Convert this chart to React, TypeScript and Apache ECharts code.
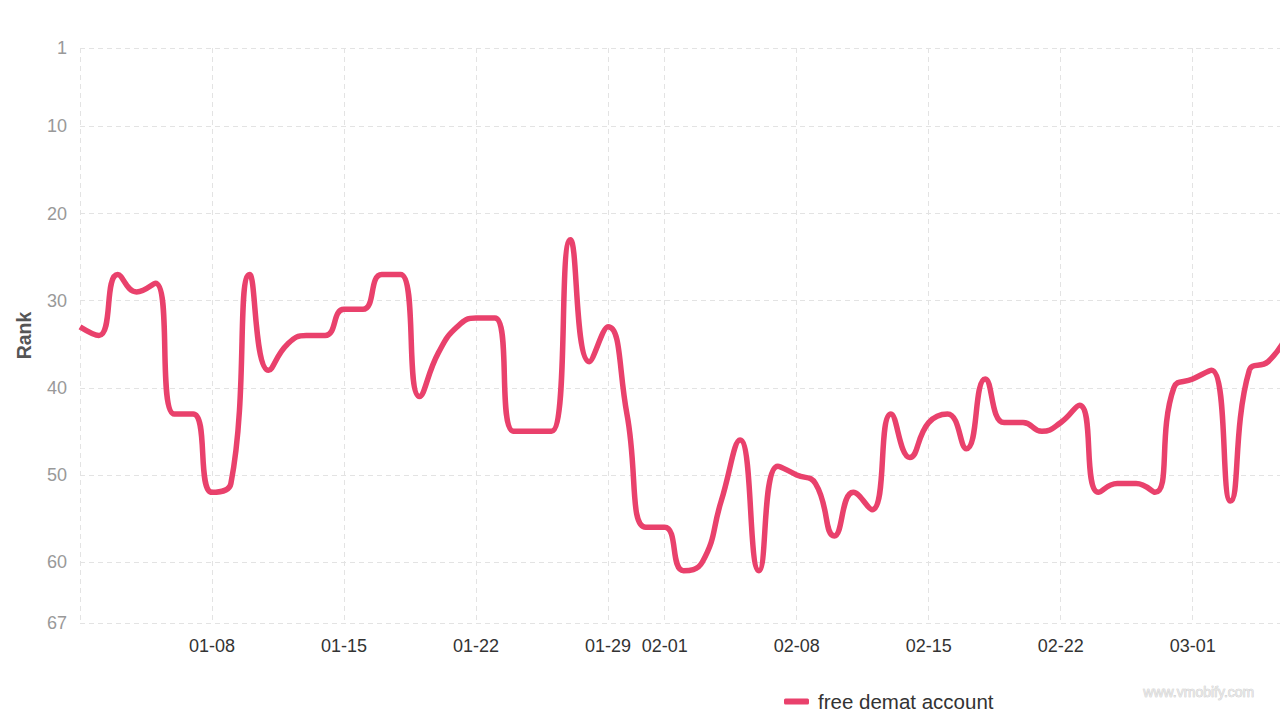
import React, { useEffect, useRef } from "react";
import * as echarts from "echarts";

const startDate = "2025-01-01";
const endDate = "2025-03-06";
const seriesName = "free demat account";
const ranks = [
  33, 34, 27, 29, 28, 43, 43, 52, 51, 27,
  38, 35, 34, 34, 31, 31, 27, 27, 41, 36,
  33, 32, 32, 45, 45, 45, 23, 37, 33, 43,
  56, 56, 61, 60, 53, 46, 61, 49, 50, 51,
  57, 52, 54, 43, 48, 44, 43, 47, 39, 44,
  44, 45, 44, 42, 52, 51, 51, 52, 40, 39,
  38, 53, 38, 37, 34,
];
const xTickDates = [
  "2025-01-01", "2025-01-08", "2025-01-15", "2025-01-22", "2025-01-29",
  "2025-02-01", "2025-02-08", "2025-02-15", "2025-02-22", "2025-03-01",
];
const xLabelDates = [
  "2025-01-08", "2025-01-15", "2025-01-22", "2025-01-29",
  "2025-02-01", "2025-02-08", "2025-02-15", "2025-02-22", "2025-03-01",
];
const yTicks = [1, 10, 20, 30, 40, 50, 60, 67];

const toTs = (s: string) => {
  const [y, m, d] = s.split("-").map(Number);
  return new Date(y, m - 1, d).getTime();
};
const pad = (n: number) => (n < 10 ? "0" + n : "" + n);

export default function App() {
  const ref = useRef<HTMLDivElement>(null);
  useEffect(() => {
    if (!ref.current) return;
    const chart = echarts.init(ref.current, undefined, { renderer: "svg" });
    const t0 = toTs(startDate);
    const data = ranks.map((v, i) => {
      const d = new Date(t0);
      d.setDate(d.getDate() + i);
      return [d.getTime(), v];
    });
    const font = "'Liberation Sans', Arial, Helvetica, sans-serif";
    chart.setOption({
      animation: false,
      textStyle: { fontFamily: font },
      grid: { left: 80, right: 13, top: 48, bottom: 97, containLabel: false },
      legend: {
        data: [seriesName],
        left: 779,
        top: 686,
        icon: "roundRect",
        itemWidth: 25,
        itemHeight: 6,
        textStyle: { fontSize: 20.5, color: "#333", fontFamily: font, padding: [0, 0, 0, 4] },
      },
      xAxis: {
        type: "value",
        min: toTs(startDate),
        max: toTs(endDate),
        axisLine: { show: false },
        axisTick: { show: false, customValues: xTickDates.map(toTs) },
        axisLabel: {
          customValues: xLabelDates.map(toTs),
          formatter: (v: number) => {
            const d = new Date(v);
            return pad(d.getMonth() + 1) + "-" + pad(d.getDate());
          },
          fontSize: 18,
          color: "#333",
          margin: 14,
          fontFamily: font,
        },
        splitLine: { show: true, lineStyle: { type: [5, 4], color: "#e3e3e3", width: 1 } },
      },
      yAxis: {
        type: "value",
        inverse: true,
        min: 1,
        max: 67,
        name: "Rank",
        nameLocation: "middle",
        nameGap: 46,
        nameTextStyle: { fontSize: 19.5, fontWeight: "bold", color: "#555", fontFamily: font },
        axisLine: { show: false },
        axisTick: { show: false, customValues: yTicks },
        axisLabel: { customValues: yTicks, fontSize: 18, color: "#999", margin: 13, fontFamily: font },
        splitLine: { show: true, lineStyle: { type: [5, 4], color: "#e3e3e3", width: 1 } },
      },
      series: [
        {
          name: seriesName,
          type: "line",
          data,
          smooth: true,
          showSymbol: false,
          symbol: "none",
          lineStyle: { width: 5.5, color: "#e9416c" },
          itemStyle: { color: "#e9416c" },
        },
      ],
      graphic: [
        {
          type: "text",
          left: 1143,
          top: 685,
          style: {
            text: "www.vmobify.com",
            fontSize: 14,
            fontFamily: font,
            fill: "#e6e6e6",
            stroke: "#c4c4c4",
            lineWidth: 0.6,
          },
        },
      ],
    });
    return () => chart.dispose();
  }, []);
  return (
    <div style={{ position: "absolute", left: 0, top: 0, width: 1280, height: 720, overflow: "hidden", background: "#fff" }}>
      <div ref={ref} style={{ width: 1300, height: 720 }} />
    </div>
  );
}
